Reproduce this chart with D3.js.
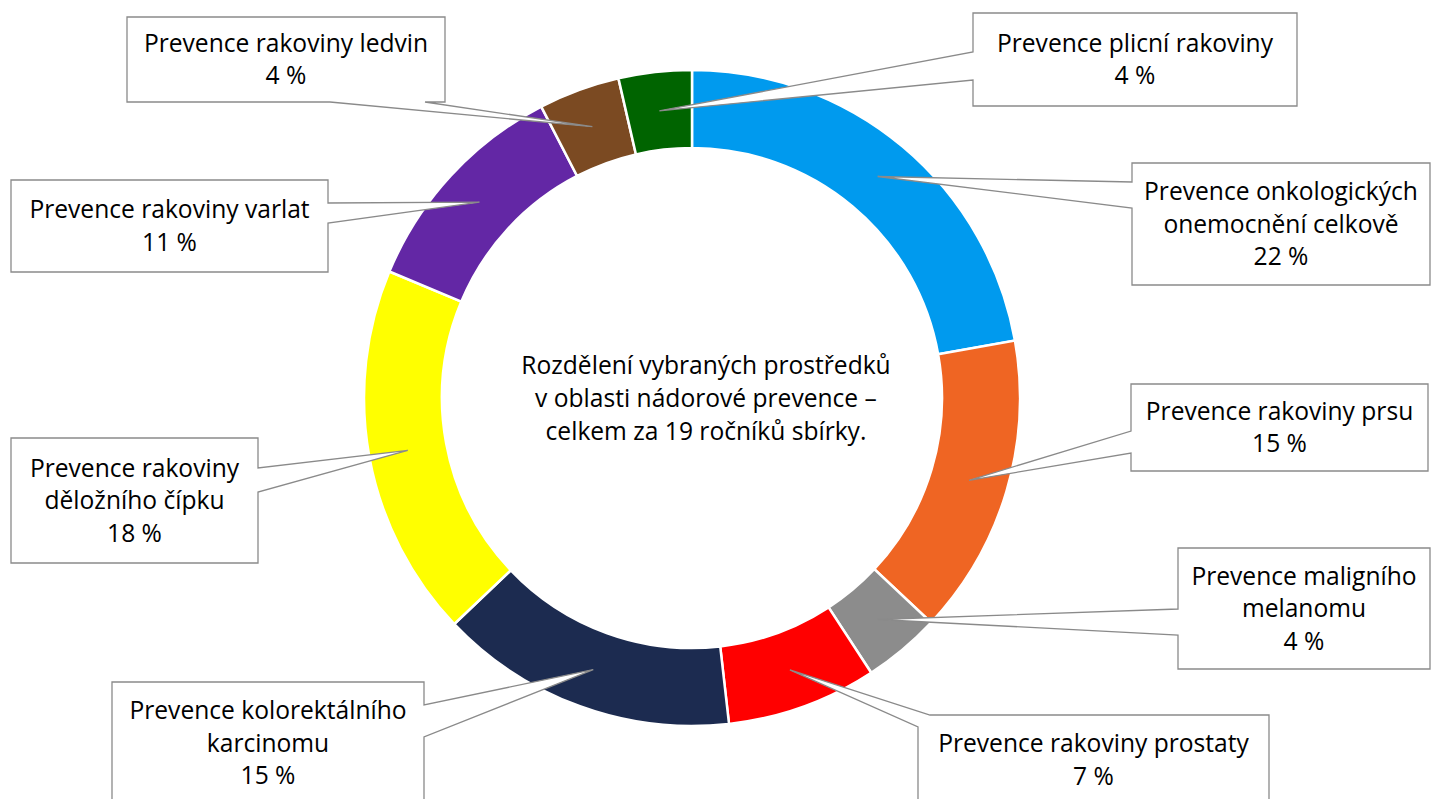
<!DOCTYPE html>
<html><head><meta charset="utf-8">
<script src="https://cdn.jsdelivr.net/npm/d3@7"></script>
<style>html,body{margin:0;padding:0;background:#fff;overflow:hidden}</style>
</head><body><svg id="chart" width="1438" height="799"></svg>
<script>
// ---- data ----
const categories = [
  "Prevence onkologických onemocnění celkově",
  "Prevence rakoviny prsu",
  "Prevence maligního melanomu",
  "Prevence rakoviny prostaty",
  "Prevence kolorektálního karcinomu",
  "Prevence rakoviny děložního čípku",
  "Prevence rakoviny varlat",
  "Prevence rakoviny ledvin",
  "Prevence plicní rakoviny"
];
const labelLines = [
  ["Prevence onkologických", "onemocnění celkově"],
  ["Prevence rakoviny prsu"],
  ["Prevence maligního", "melanomu"],
  ["Prevence rakoviny prostaty"],
  ["Prevence kolorektálního", "karcinomu"],
  ["Prevence rakoviny", "děložního čípku"],
  ["Prevence rakoviny varlat"],
  ["Prevence rakoviny ledvin"],
  ["Prevence plicní rakoviny"]
];
const values = [22.2, 14.8, 3.8, 7.4, 14.7, 18.4, 11.1, 4.0, 3.6];
const colors = ["#009AEE", "#EF6523", "#8C8C8C", "#FF0000", "#1C2B50", "#FFFF00", "#6327A5", "#7B4A22", "#006400"];
const centerTitle = ["Rozdělení vybraných prostředků", "v oblasti nádorové prevence –", "celkem za 19 ročníků sbírky."];

// ---- layout ----
const W = 1438, H = 799, cx = 692, cy = 398, rOuter = 328, rInner = 250;
const FONT = "'Open Sans', sans-serif", FS = 24.6, LH = 32.5;
const callouts = [
  {box: [1132, 163, 1430, 285], base: [[1132, 208], [1132, 182]]},
  {box: [1131, 384, 1428, 471], base: [[1131, 453], [1131, 431]]},
  {box: [1178, 548, 1430, 669], base: [[1178, 635], [1178, 609]]},
  {box: [918, 715, 1269, 805], base: [[930, 715], [918, 727]]},
  {box: [112, 682, 424, 804], base: [[424, 705], [424, 737]]},
  {box: [11, 438, 258, 563], base: [[258, 468], [258, 492]]},
  {box: [11, 180, 328, 272], base: [[328, 203], [328, 223]]},
  {box: [127, 17, 445, 102], base: [[425, 102], [330, 102]]},
  {box: [973, 13, 1297, 106], base: [[973, 80], [973, 52]]}
];

const svg = d3.select("#chart");
svg.append("rect").attr("width", W).attr("height", H).attr("fill", "#fff");

const pie = d3.pie().sort(null).value(d => d)(values);
const arc = d3.arc().innerRadius(rInner).outerRadius(rOuter);
const g = svg.append("g").attr("transform", `translate(${cx},${cy})`);
g.selectAll("path.slice").data(pie).join("path")
  .attr("class", "slice")
  .attr("d", arc)
  .attr("fill", (d, i) => colors[i])
  .attr("stroke", "#fff").attr("stroke-width", 2.5).attr("stroke-linejoin", "miter");

// center title
svg.append("text")
  .attr("x", 706).attr("y", cy)
  .attr("text-anchor", "middle")
  .attr("font-family", FONT).attr("font-size", FS).attr("fill", "#000")
  .selectAll("tspan").data(centerTitle).join("tspan")
  .attr("x", 706)
  .attr("y", (d, i) => cy + (i - 1) * 33)
  .attr("dy", "0.35em")
  .text(d => d);

function calloutPath(box, base, tip) {
  const [x0, y0, x1, y1] = box;
  const w = x1 - x0, h = y1 - y0, P = 2 * (w + h);
  const perim = ([x, y]) => {
    if (Math.abs(y - y0) < 0.5) return x - x0;
    if (Math.abs(x - x1) < 0.5) return w + (y - y0);
    if (Math.abs(y - y1) < 0.5) return w + h + (x1 - x);
    return 2 * w + h + (y1 - y);
  };
  const pt = p => {
    p = ((p % P) + P) % P;
    if (p < w) return [x0 + p, y0];
    if (p < w + h) return [x1, y0 + (p - w)];
    if (p < 2 * w + h) return [x1 - (p - w - h), y1];
    return [x0, y1 - (p - 2 * w - h)];
  };
  let pa = perim(base[0]), pb = perim(base[1]);
  if ((((pb - pa) % P) + P) % P > P / 2) [pa, pb] = [pb, pa];
  let end = pa < pb ? pa + P : pa;
  const path = d3.path();
  path.moveTo(...pt(pb));
  const corners = [0, w, w + h, 2 * w + h];
  for (let k = 0; k < 8; k++) {
    const c = corners[k % 4] + (k >= 4 ? P : 0);
    if (c > pb && c < end) path.lineTo(...pt(c));
  }
  path.lineTo(...pt(end));
  path.lineTo(tip[0], tip[1]);
  path.closePath();
  return path.toString();
}

const lg = svg.append("g");
pie.forEach((d, i) => {
  const c = arc.centroid(d);
  const tip = [cx + c[0], cy + c[1]];
  const co = callouts[i];
  lg.append("path")
    .attr("d", calloutPath(co.box, co.base, tip))
    .attr("fill", "#fff").attr("stroke", "#8a8a8a").attr("stroke-width", 1.3);
  const lines = labelLines[i].concat([`${Math.round(values[i])} %`]);
  const bx = (co.box[0] + co.box[2]) / 2, by = (co.box[1] + co.box[3]) / 2;
  const t = lg.append("text")
    .attr("text-anchor", "middle")
    .attr("font-family", FONT).attr("font-size", FS).attr("fill", "#000");
  t.selectAll("tspan").data(lines).join("tspan")
    .attr("x", bx)
    .attr("y", (l, j) => by + (j - (lines.length - 1) / 2) * LH)
    .attr("dy", "0.35em")
    .text(l => l);
});
</script>
</body></html>
